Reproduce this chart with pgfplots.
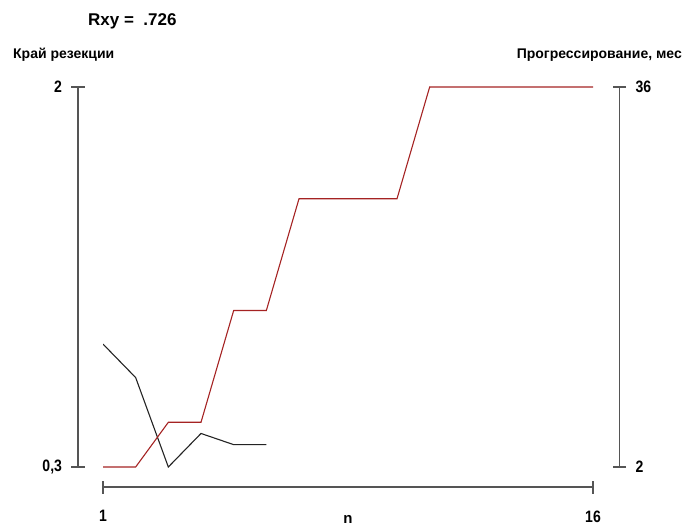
\documentclass[border=0pt]{standalone}
\usepackage{pgfplots}
\pgfplotsset{compat=1.18}
\usepackage{fontspec}
\setmainfont{Liberation Sans}
\newfontfamily\tickfont{Liberation Sans}[FakeStretch=0.85]
\definecolor{axgray}{RGB}{85,85,85}
\definecolor{redline}{RGB}{165,35,35}
\definecolor{blackline}{RGB}{35,35,35}
\begin{document}
\begin{tikzpicture}[x=1pt,y=1pt]
\path[use as bounding box] (0,0) rectangle (685,525);
\pgfplotsset{
  common/.style={
    at={(103pt,58pt)}, anchor=south west,
    width=490pt, height=380pt, scale only axis,
    xmin=1, xmax=16,
    tick align=center, major tick length=13pt,
    tick style={draw=axgray, line width=1.4pt},
    ticklabel style={font=\tickfont\bfseries\fontsize{16.5}{18}\selectfont, text=black},
  }
}
\begin{axis}[common,
  ymin=0.3, ymax=2,
  axis x line=bottom, axis y line=left,
  axis line style={-, draw=axgray, line width=1.4pt},
  x axis line style={-}, y axis line style={-},
  axis x line shift=20pt, axis y line shift=25pt,
  xtick={1,16}, xticklabels={1,16},
  xticklabel style={yshift=-13.5pt},
  ytick={0.3,2}, yticklabels={{0,3},{2}},
  yticklabel style={xshift=-6pt},
  xlabel={n},
  xlabel style={font=\bfseries\fontsize{15}{17}\selectfont, at={(axis description cs:0.5,0)}, anchor=base, yshift=-56pt},
]
\addplot[blackline, line width=1.1pt] coordinates {
(1,0.85) (2,0.70) (3,0.30) (4,0.45) (5,0.40) (6,0.40)
};
\end{axis}
\begin{axis}[common,
  ymin=2, ymax=36,
  axis x line=none, axis y line=right,
  axis line style={-, draw=axgray, line width=1.4pt},
  y axis line style={-},
  axis y line shift=26.5pt,
  ytick={2,36}, yticklabels={{2},{36}},
  yticklabel style={xshift=6pt},
]
\addplot[redline, line width=1.1pt] coordinates {
(1,2) (2,2) (3,6) (4,6) (5,16) (6,16) (7,26) (8,26) (9,26) (10,26) (11,36) (12,36) (13,36) (14,36) (15,36) (16,36)
};
\end{axis}
\node[anchor=base west, font=\bfseries\fontsize{17}{19}\selectfont, inner sep=0pt] at (88,499) {Rxy =\ \ .726};
\node[anchor=base west, font=\bfseries\fontsize{14}{16}\selectfont, inner sep=0pt] at (13,466) {Край резекции};
\node[anchor=base east, font=\bfseries\fontsize{14}{16}\selectfont, inner sep=0pt] at (682,466) {Прогрессирование, мес};
\end{tikzpicture}
\end{document}
